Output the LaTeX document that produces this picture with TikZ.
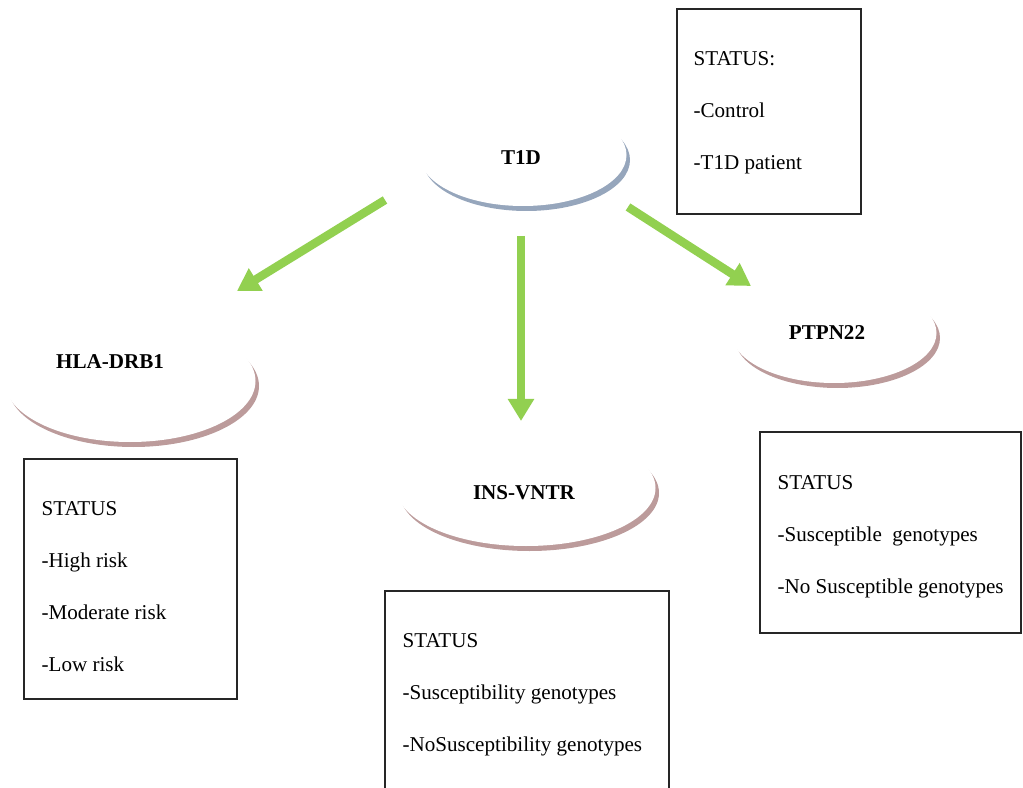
\documentclass[tikz,border=0pt]{standalone}
\usepackage{fontspec}
\setmainfont{Liberation Serif}
\usetikzlibrary{arrows.meta,shapes.geometric,shadows,fit}
\definecolor{arrowgreen}{HTML}{92D050}
\definecolor{shadowblue}{HTML}{8496B0}
\definecolor{shadowrose}{HTML}{B08A8A}
\tikzset{
  gene/.style={ellipse, fill=white, draw=none, inner sep=0pt,
    drop shadow={shadow xshift=0.7mm, shadow yshift=-1mm, fill=#1, opacity=0.85}},
  gene/.default=shadowrose,
  genetext/.style={font=\fontsize{12pt}{14pt}\selectfont\bfseries, inner sep=0pt},
  statusbox/.style={draw=black!85, line width=0.3mm, inner sep=0pt},
  statustext/.style={anchor=north west, align=left, inner sep=0pt,
    font=\fontsize{12pt}{29.5pt}\selectfont},
  geneline/.style={draw=arrowgreen, line width=1.7mm,
    -{Triangle[length=4.4mm,width=5mm]}}
}

\begin{document}
\begin{tikzpicture}[x=0.2mm, y=-0.2mm]
    \clip (0,0) rectangle (1023,788);

    % gene ellipses
    \node[gene=shadowblue, minimum width=41.4mm, minimum height=20.4mm] (t1d) at (523,155) {};
    \node[gene, minimum width=50.2mm, minimum height=24.4mm] (hla) at (130,381) {};
    \node[gene, minimum width=51.8mm, minimum height=23.2mm] (ins) at (526,488) {};
    \node[gene, minimum width=41mm, minimum height=20mm] (ptpn) at (834,333) {};

    \node[genetext] (t1dtext) at (521,158) {T1D};
    \node[genetext] (hlatext) at (110,362) {HLA-DRB1};
    \node[genetext] (instext) at (524,493) {INS-VNTR};
    \node[genetext] (ptpntext) at (827,333) {PTPN22};

    % arrows
    \coordinate (hlafrom) at (385,200);
    \coordinate (hlato) at (237,291);
    \coordinate (insfrom) at (521,236);
    \coordinate (insto) at (521,421);
    \coordinate (ptpnfrom) at (628,207);
    \coordinate (ptpnto) at (751,286);
    \draw[geneline] (hlafrom) -- (hlato);
    \draw[geneline] (insfrom) -- (insto);
    \draw[geneline] (ptpnfrom) -- (ptpnto);

    % status boxes
    \node[statusbox, fit={(677,9) (861,214)}] (t1dbox) {};
    \node[statusbox, fit={(24,459) (237,699)}] (hlabox) {};
    \node[statusbox, fit={(385,591) (669,794)}] (insbox) {};
    \node[statusbox, fit={(760,432) (1021,633)}] (ptpnbox) {};

    \node[statustext] (t1dstatus) at ([shift={(17,43)}]t1dbox.north west)
        {STATUS:\\-Control\\-T1D patient};
    \node[statustext] (hlastatus) at ([shift={(18,43)}]hlabox.north west)
        {STATUS\\-High risk\\-Moderate risk\\-Low risk};
    \node[statustext] (insstatus) at ([shift={(18,43)}]insbox.north west)
        {STATUS\\-Susceptibility genotypes\\-NoSusceptibility genotypes};
    \node[statustext] (ptpnstatus) at ([shift={(18,44)}]ptpnbox.north west)
        {STATUS\\-Susceptible\ \ genotypes\\-No Susceptible genotypes};
\end{tikzpicture}
\end{document}
